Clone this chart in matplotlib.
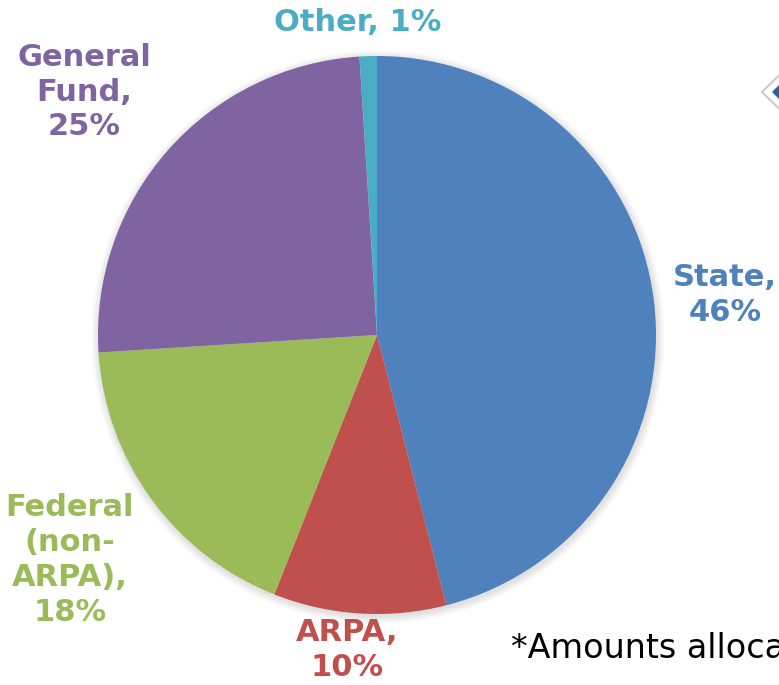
import matplotlib.pyplot as plt
from matplotlib.patches import Circle, Polygon

# funding sources, clockwise from 12 o'clock
sources = ['State', 'ARPA', 'Federal (non-ARPA)', 'General Fund', 'Other']
shares = [46, 10, 18, 25, 1]
colors = ['#4F81BD', '#C0504D', '#9BBB59', '#8064A2', '#4BACC6']
label_text = ['State,\n46%', 'ARPA,\n10%', 'Federal\n(non-\nARPA),\n18%',
              'General\nFund,\n25%', 'Other, 1%']
footnote = '*Amounts allocat'

W, H = 779, 685
fig = plt.figure(figsize=(W / 100, H / 100), dpi=100)
ax = fig.add_axes([0, 0, 1, 1])

cx, cy, r = 377, 335, 279

# soft shadow behind the pie
for i in range(6):
    ax.add_patch(Circle((cx + 1, cy + 2), r + 1 + i * 1.3, color='#000000',
                        alpha=0.02, lw=0, zorder=0))

# y axis is flipped below, so counterclock=True reads clockwise on screen
ax.pie(shares, colors=colors, startangle=-90, counterclock=True,
       center=(cx, cy), radius=r, frame=True,
       wedgeprops=dict(linewidth=0, zorder=2))
ax.set_xlim(0, W)
ax.set_ylim(H, 0)
ax.set_aspect('equal')
ax.axis('off')

# label positions (pixel coords)
label_pos = [(725, 295), (347, 650), (70, 560), (84, 92), (358, 22)]
for txt, (x, y), c in zip(label_text, label_pos, colors):
    ax.text(x, y, txt, color=c, fontsize=22, fontweight='bold',
            ha='center', va='center', linespacing=1.25,
            family='DejaVu Sans', zorder=5)

ax.text(511, 648, footnote, color='black', fontsize=24, ha='left',
        va='center', family='DejaVu Sans', zorder=5)

# partial callout marker at the right edge
ax.add_patch(Polygon([(762, 92), (800, 55), (838, 92), (800, 129)],
                     closed=True, facecolor='white', edgecolor='#CCCCCC',
                     lw=1.5, zorder=3))
ax.add_patch(Polygon([(772, 92), (782, 82), (782, 102)], closed=True,
                     facecolor='#2E5F9E', lw=0, zorder=4))

fig.savefig('out.png', dpi=100)
